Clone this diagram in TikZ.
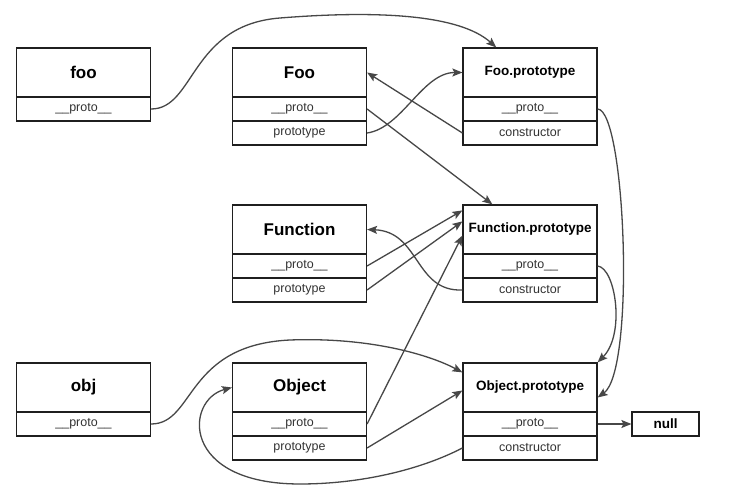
\documentclass[tikz,border=0pt]{standalone}
\usepackage{fontspec}
\setmainfont{Liberation Sans}
\usetikzlibrary{arrows.meta,calc}
\begin{document}
\begin{tikzpicture}[x=1pt,y=-1pt,
  box/.style={draw=black!88, line width=1.2pt, minimum width=134pt, inner sep=0pt, fill=white},
  ttl/.style={box, minimum height=49pt, font=\bfseries\fontsize{17}{20}\selectfont},
  ttls/.style={box, minimum height=49pt, font=\bfseries\fontsize{13.5}{16}\selectfont},
  rowbox/.style={box, minimum height=24pt, font=\fontsize{12.5}{15}\selectfont, text=black!80},
  link/.style={draw=black!72, line width=1.3pt, -{Stealth[length=10pt,width=8pt,inset=2pt]}}
]
\fill[white] (0,0) rectangle (742,494);
\useasboundingbox (0,0) rectangle (742,494);

% foo
\node[ttl] (fooT) at (83.5,72.5) {foo};
\node[rowbox] (fooP) at (83.5,109) {\_\_proto\_\_};
% Foo
\node[ttl] (FooT) at (299.5,72.5) {Foo};
\node[rowbox] (FooPp) at (299.5,109) {\_\_proto\_\_};
\node[rowbox] (FooPr) at (299.5,133) {prototype};
% Foo.prototype
\node[ttls] (FooPT) at (530,72.5) {Foo.prototype};
\node[rowbox] (FooPP) at (530,109) {\_\_proto\_\_};
\node[rowbox] (FooPC) at (530,133) {constructor};
% Function
\node[ttl] (FT) at (299.5,229.5) {Function};
\node[rowbox] (FPp) at (299.5,266) {\_\_proto\_\_};
\node[rowbox] (FPr) at (299.5,290) {prototype};
% Function.prototype
\node[ttls] (FPT) at (530,229.5) {Function.prototype};
\node[rowbox] (FPP) at (530,266) {\_\_proto\_\_};
\node[rowbox] (FPC) at (530,290) {constructor};
% obj
\node[ttl] (objT) at (83.5,387.5) {obj};
\node[rowbox] (objP) at (83.5,424) {\_\_proto\_\_};
% Object
\node[ttl] (OT) at (299.5,387.5) {Object};
\node[rowbox] (OPp) at (299.5,424) {\_\_proto\_\_};
\node[rowbox] (OPr) at (299.5,448) {prototype};
% Object.prototype
\node[ttls] (OPT) at (530,387.5) {Object.prototype};
\node[rowbox] (OPP) at (530,424) {\_\_proto\_\_};
\node[rowbox] (OPC) at (530,448) {constructor};
% null
\node[box, minimum width=67pt, minimum height=24pt, font=\bfseries\fontsize{13.5}{16}\selectfont] (nul) at (665.5,424) {null};

% links
\draw[link] (fooP.east) .. controls (195,109) and (190,25) .. (280,18)
  .. controls (380,10) and (460,15) .. ($(FooPT.north west)!0.25!(FooPT.north east)$);
\draw[link] (FooPC.west) -- (FooT.east);
\draw[link] (FooPr.east) .. controls +(35,-5) and +(-40,0) .. (FooPT.west);
\draw[link] (FooPp.east) -- ($(FPT.north west)+(30,0)$);
\draw[link] (FooPP.east) .. controls +(28,1) and +(38,-27) .. ($(OPT.east)+(0,10)$);
\draw[link] (FPp.east) -- ($(FPT.north west)+(0,6)$);
\draw[link] (FPr.east) -- ($(FPT.north west)+(0,17)$);
\draw[link] (FPC.west) .. controls +(-48,2) and +(53,2) .. (FT.east);
\draw[link] (FPP.east) .. controls +(18,2) and +(28,-28) .. (OPT.north east);
\draw[link] (OPp.east) -- ($(FPT.west)+(0,6)$);
\draw[link] (OPr.east) -- ($(OPT.west)+(0,3)$);
\draw[link] (objP.east) .. controls (195,424) and (185,345) .. (290,340)
  .. controls (370,337) and (430,355) .. ($(OPT.north west)+(0,10)$);
\draw[link] (OPC.west) .. controls (420,470) and (360,484) .. (300,484)
  .. controls (180,484) and (185,400) .. (OT.west);
\draw[link] (OPP.east) -- (nul.west);
\end{tikzpicture}
\end{document}
